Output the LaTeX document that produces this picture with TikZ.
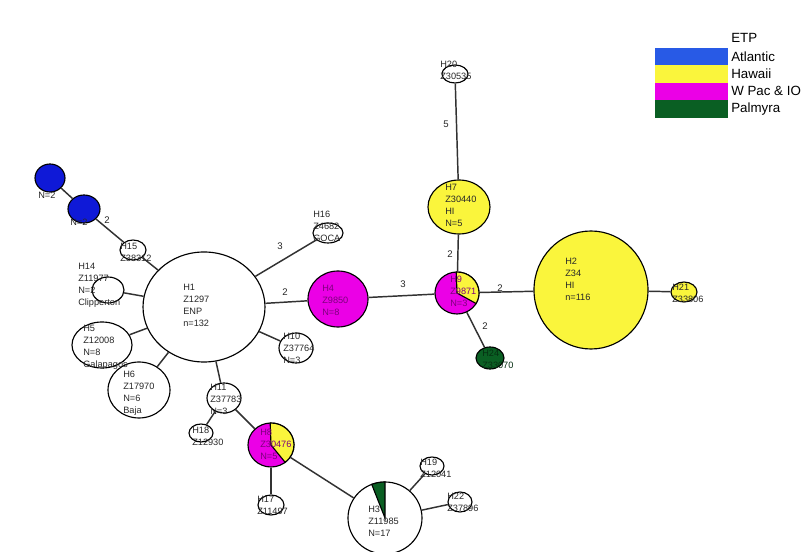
\documentclass[tikz,border=0pt]{standalone}
\usepackage{fontspec}
\setmainfont{Liberation Sans}
\usetikzlibrary{shapes.geometric}
\definecolor{nblue}{RGB}{15,25,215}
\definecolor{lblue}{RGB}{40,90,230}
\definecolor{nyel}{RGB}{250,245,60}
\definecolor{nmag}{RGB}{235,0,230}
\definecolor{ngreen}{RGB}{10,95,35}
\definecolor{tcol}{RGB}{40,40,40}
\definecolor{tmag}{RGB}{125,0,125}
\definecolor{ecol}{RGB}{50,50,50}
\begin{document}
\begin{tikzpicture}[x=0.75pt,y=-0.75pt,
 hap/.style={ellipse, draw=black, line width=0.85pt, inner sep=0pt},
 edge/.style={draw=ecol, line width=1.1pt},
 txt/.style={font=\fontsize{6.9}{9}\selectfont, align=left, inner sep=0pt, anchor=north west, text=tcol},
 elab/.style={font=\fontsize{7.2}{8}\selectfont, inner sep=0pt, text=tcol},
 leg/.style={font=\fontsize{10}{12}\selectfont, anchor=west, inner sep=0pt, text=black}]
\useasboundingbox (0,0) rectangle (808,552);
\fill[white] (0,0) rectangle (808,552);

% haplotype nodes
\node[hap, fill=white, minimum width=91.5pt, minimum height=82.5pt] (H1) at (204,307) {};
\node[hap, fill=nblue, minimum width=22.5pt, minimum height=21pt] (B1) at (50,178) {};
\node[hap, fill=nblue, minimum width=24pt, minimum height=21pt] (B2) at (84,209) {};
\node[hap, fill=white, minimum width=19.5pt, minimum height=15pt] (H15) at (133,250) {};
\node[hap, fill=white, minimum width=24pt, minimum height=19.5pt] (H14) at (108,290) {};
\node[hap, fill=white, minimum width=22.5pt, minimum height=15pt] (H16) at (328,233) {};
\node[hap, fill=nmag, minimum width=45pt, minimum height=42pt] (H4) at (338,299) {};
\node[hap, fill=white, minimum width=25.5pt, minimum height=22.5pt] (H10) at (296,348) {};
\node[hap, fill=white, minimum width=45pt, minimum height=34.5pt] (H5) at (102,345) {};
\node[hap, fill=white, minimum width=46.5pt, minimum height=42pt] (H6) at (139,390) {};
\node[hap, fill=white, minimum width=25.5pt, minimum height=22.5pt] (H11) at (224,398) {};
\node[hap, fill=white, minimum width=18pt, minimum height=13.5pt] (H18) at (201,433) {};
\node[hap, fill=nmag, minimum width=34.5pt, minimum height=33pt] (H8) at (271,445) {};
\node[hap, fill=white, minimum width=19.5pt, minimum height=15pt] (H17) at (271,505) {};
\node[hap, fill=white, minimum width=55.5pt, minimum height=54pt] (H3) at (385,518) {};
\node[hap, fill=white, minimum width=18pt, minimum height=13.5pt] (H19) at (432,466) {};
\node[hap, fill=white, minimum width=18pt, minimum height=15pt] (H22) at (460,502) {};
\node[hap, fill=nmag, minimum width=33pt, minimum height=31.5pt] (H9) at (457,293) {};
\node[hap, fill=ngreen, minimum width=21pt, minimum height=16.5pt] (H24) at (490,358) {};
\node[hap, fill=nyel, minimum width=46.5pt, minimum height=40.5pt] (H7) at (459,207) {};
\node[hap, fill=white, minimum width=19.5pt, minimum height=13.5pt] (H20) at (455,74) {};
\node[hap, fill=nyel, minimum width=85.5pt, minimum height=88.5pt] (H2) at (591,290) {};
\node[hap, fill=nyel, minimum width=19.5pt, minimum height=15pt] (H21) at (684,292) {};

% pie slices
\begin{scope}[shift={(H8.center)}]
 \filldraw[fill=nyel, draw=black, line width=0.85pt] (0,0) -- (92:17.25pt and 16.5pt)
   arc[start angle=92, end angle=-52, x radius=17.25pt, y radius=16.5pt] -- cycle;
\end{scope}
\begin{scope}[shift={(H9.center)}]
 \filldraw[fill=nyel, draw=black, line width=0.85pt] (0,0) -- (92:16.5pt and 15.75pt)
   arc[start angle=92, end angle=-30, x radius=16.5pt, y radius=15.75pt] -- cycle;
\end{scope}
\begin{scope}[shift={(H3.center)}]
 \filldraw[fill=ngreen, draw=black, line width=0.85pt] (0,0) -- (90:27.75pt and 27pt)
   arc[start angle=90, end angle=111, x radius=27.75pt, y radius=27pt] -- cycle;
\end{scope}

% connectors
\draw[edge] (B1) -- (B2);
\draw[edge] (B2) -- (H15);
\draw[edge] (H15) -- (H1);
\draw[edge] (H14) -- (H1);
\draw[edge] (H5) -- (H1);
\draw[edge] (H6) -- (H1);
\draw[edge] (H11) -- (H1);
\draw[edge] (H10) -- (H1);
\draw[edge] (H16) -- (H1);
\draw[edge] (H1) -- (H4);
\draw[edge] (H4) -- (H9);
\draw[edge] (H9) -- (H7);
\draw[edge] (H7) -- (H20);
\draw[edge] (H9) -- (H2);
\draw[edge] (H2) -- (H21);
\draw[edge] (H9) -- (H24);
\draw[edge] (H11) -- (H18);
\draw[edge] (H11) -- (H8);
\draw[edge] (H8) -- (H17);
\draw[edge] (H8) -- (H3);
\draw[edge] (H3) -- (H19);
\draw[edge] (H3) -- (H22);

% connector labels
\node[elab] (l1) at (107,220) {2};
\node[elab] (l2) at (280,246) {3};
\node[elab] (l3) at (285,292) {2};
\node[elab] (l4) at (403,284) {3};
\node[elab] (l5) at (450,254) {2};
\node[elab] (l6) at (446,124) {5};
\node[elab] (l7) at (500,288) {2};
\node[elab] (l8) at (485,326) {2};

% node texts
\node[txt] (t1) at (183,284) {H1\\Z1297\\ENP\\n=132};
\node[txt] (tb1) at (38,192) {N=2};
\node[txt] (tb2) at (70,219) {N=2};
\node[txt] (t15) at (120,243) {H15\\Z38312};
\node[txt] (t14) at (78,263) {H14\\Z11977\\N=2\\Clipperton};
\node[txt] (t16) at (313,211) {H16\\Z4682\\GOCA};
\node[txt, text=tmag] (t4) at (322,285) {H4\\Z9850\\N=8};
\node[txt] (t10) at (283,333) {H10\\Z37764\\N=3};
\node[txt] (t5) at (83,325) {H5\\Z12008\\N=8\\Galapagos};
\node[txt] (t6) at (123,371) {H6\\Z17970\\N=6\\Baja};
\node[txt] (t11) at (210,384) {H11\\Z37783\\N=3};
\node[txt] (t18) at (192,427) {H18\\Z12930};
\node[txt, text=tmag] (t8) at (260,429) {H8\\Z30476\\N=5};
\node[txt] (t17) at (257,496) {H17\\Z11497};
\node[txt] (t3) at (368,506) {H3\\Z11985\\N=17};
\node[txt] (t19) at (420,459) {H19\\Z12041};
\node[txt] (t22) at (447,493) {H22\\Z37896};
\node[txt, text=tmag] (t9) at (450,276) {H9\\Z9871\\N=3};
\node[txt, text=ngreen!50!black] (t24) at (482,350) {H24\\Z33070};
\node[txt] (t7) at (445,184) {H7\\Z30440\\HI\\N=5};
\node[txt] (t20) at (440,61) {H20\\Z30535};
\node[txt] (t2) at (565,258) {H2\\Z34\\HI\\n=116};
\node[txt] (t21) at (672,284) {H21\\Z33806};

% legend
\fill[lblue] (655,48) rectangle (728,65.5);
\fill[nyel] (655,65.5) rectangle (728,83);
\fill[nmag] (655,83) rectangle (728,100.5);
\fill[ngreen] (655,100.5) rectangle (728,118);
\node[leg] (g0) at (731,38) {ETP};
\node[leg] (g1) at (731,57) {Atlantic};
\node[leg] (g2) at (731,73.5) {Hawaii};
\node[leg] (g3) at (731,91) {W Pac \& IO};
\node[leg] (g4) at (731,109.5) {Palmyra};
\end{tikzpicture}
\end{document}
